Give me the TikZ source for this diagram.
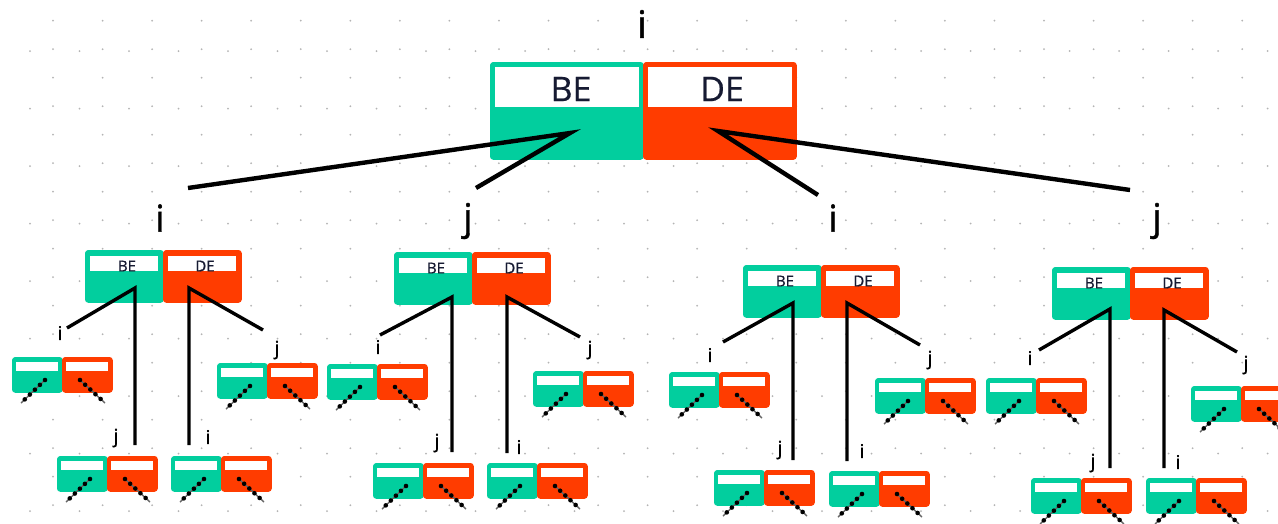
\documentclass[tikz,border=0pt]{standalone}
\usepackage{fontspec}
\setmainfont{Open Sans}
\newfontfamily\labfont[BoldFont={Open Sans}, BoldFeatures={FakeBold=1.3}]{Open Sans}
\newfontfamily\capfont[BoldFont={Open Sans}, BoldFeatures={FakeBold=0.6}]{Open Sans}
\definecolor{mint}{RGB}{2,206,158}
\definecolor{flame}{RGB}{255,60,0}
\definecolor{ink}{RGB}{22,26,50}
\definecolor{griddot}{RGB}{180,180,180}

\tikzset{
  half/.style={anchor=north west, inner sep=0pt, rounded corners=3pt, line width=0.8pt},
  gbig/.style={half, fill=mint, draw=mint, minimum width=153pt, minimum height=97pt},
  rbig/.style={half, fill=flame, draw=flame, minimum width=153pt, minimum height=97pt},
  gmid/.style={half, fill=mint, draw=mint, minimum width=78pt, minimum height=52pt},
  rmid/.style={half, fill=flame, draw=flame, minimum width=78pt, minimum height=52pt},
  gleaf/.style={half, fill=mint, draw=mint, minimum width=50pt, minimum height=35pt},
  rleaf/.style={half, fill=flame, draw=flame, minimum width=50pt, minimum height=35pt},
  band/.style={anchor=north west, inner sep=0pt, fill=white, draw=none},
  bandbig/.style={band, minimum width=144pt, minimum height=40pt},
  bandmid/.style={band, minimum width=68pt, minimum height=15pt},
  bandleaf/.style={band, minimum width=42pt, minimum height=9pt},
  bigtxt/.style={inner sep=0pt, text=ink, font=\capfont\bfseries\fontsize{34}{36}\selectfont},
  midtxt/.style={inner sep=0pt, text=ink, font=\capfont\bfseries\fontsize{15}{17}\selectfont},
  toplab/.style={inner sep=0pt, font=\labfont\bfseries\fontsize{38}{42}\selectfont},
  lab2/.style={inner sep=0pt, font=\labfont\bfseries\fontsize{37}{40}\selectfont},
  lab3/.style={inner sep=0pt, font=\labfont\bfseries\fontsize{19}{20}\selectfont},
  link1/.style={line width=4.4pt, black},
  link2/.style={line width=3.4pt, black},
  dotlink/.style={black, line width=4.6pt, line cap=round, dash pattern=on 0pt off 7pt,
    preaction={draw, solid, line width=1.4pt, black!60}},
}

% two-tone record of the middle level, with its BE / DE captions
\newcommand\midpair[3]{%
  \node[gmid] (#1-be) at (#2,#3) {};
  \node[rmid] (#1-de) at ({#2+78},#3) {};
  \node[bandmid] (#1-bew) at ({#2+5},{#3+6}) {};
  \node[bandmid] (#1-dew) at ({#2+83},{#3+6}) {};
  \node[midtxt] (#1-bet) at ({#2+42},{#3+16}) {BE};
  \node[midtxt] (#1-det) at ({#2+120},{#3+16}) {DE};
}

% small record of the bottom level with its two dotted continuations
\newcommand\leafpair[3]{%
  \node[gleaf] (#1-be) at (#2,#3) {};
  \node[rleaf] (#1-de) at ({#2+50},#3) {};
  \node[bandleaf] (#1-bew) at ({#2+4},{#3+5}) {};
  \node[bandleaf] (#1-dew) at ({#2+54},{#3+5}) {};
  \coordinate (#1-gs) at ({#2+33},{#3+23});
  \coordinate (#1-ge) at ({#2+9},{#3+46});
  \coordinate (#1-rs) at ({#2+68},{#3+23});
  \coordinate (#1-re) at ({#2+93},{#3+46});
  \draw[dotlink] (#1-gs) -- (#1-ge);
  \draw[dotlink] (#1-rs) -- (#1-re);
}

\begin{document}
\begin{tikzpicture}[x=1pt, y=-1pt]
\useasboundingbox (0,0) rectangle (1278,523);
\clip (0,0) rectangle (1278,523);
\fill[white] (0,0) rectangle (1278,523);

% dotted paper
\foreach \i in {0,...,24}
  \foreach \j in {0,...,17}
    \fill[griddot] ({53+49.55*\i},{20.7+28.5*\j}) circle (1pt);
\foreach \i in {0,...,25}
  \foreach \j in {0,...,8}
    \fill[griddot] ({30+49.5*\i},{51+57.5*\j}) circle (1pt);

% root record
\node[toplab] (root-lab) at (642,24) {i};
\node[gbig] (root-be) at (490,62) {};
\node[rbig] (root-de) at (643,62) {};
\node[bandbig] (root-bew) at (495,67) {};
\node[bandbig] (root-dew) at (648,67) {};
\node[bigtxt] (root-bet) at (571,89) {BE};
\node[bigtxt] (root-det) at (722,89) {DE};

\coordinate (root-vb) at (570,133);
\coordinate (root-vd) at (718,131);
\coordinate (root-e1) at (188,188);
\coordinate (root-e2) at (476,188);
\coordinate (root-e3) at (818,195);
\coordinate (root-e4) at (1130,190);
\draw[link1] (root-e1) -- (root-vb) -- (root-e2);
\draw[link1] (root-e3) -- (root-vd) -- (root-e4);

% second level labels
\node[lab2] (la) at (160,218) {i};
\node[lab2] (lb) at (468,221) {j};
\node[lab2] (lc) at (833,218) {i};
\node[lab2] (ld) at (1157,221) {j};

% second level records
\midpair{a}{85}{250}
\midpair{b}{394}{252}
\midpair{c}{743}{265}
\midpair{d}{1052}{267}

% branches of the second level records
\coordinate (a-vb) at (135,288);  \coordinate (a-vd) at (189,288);
\coordinate (a-e1) at (67,328);   \coordinate (a-e2) at (135,445);
\coordinate (a-e3) at (189,445);  \coordinate (a-e4) at (263,330);
\coordinate (b-vb) at (452,297);  \coordinate (b-vd) at (507,297);
\coordinate (b-e1) at (380,335);  \coordinate (b-e2) at (452,452);
\coordinate (b-e3) at (507,453);  \coordinate (b-e4) at (580,337);
\coordinate (c-vb) at (793,303);  \coordinate (c-vd) at (847,303);
\coordinate (c-e1) at (723,342);  \coordinate (c-e2) at (793,460);
\coordinate (c-e3) at (847,461);  \coordinate (c-e4) at (920,345);
\coordinate (d-vb) at (1110,309); \coordinate (d-vd) at (1164,310);
\coordinate (d-e1) at (1039,350); \coordinate (d-e2) at (1110,468);
\coordinate (d-e3) at (1164,468); \coordinate (d-e4) at (1237,352);
\foreach \s in {a,b,c,d} {
  \draw[link2] (\s-e1) -- (\s-vb) -- (\s-e2);
  \draw[link2] (\s-e3) -- (\s-vd) -- (\s-e4);
}

% third level labels
\node[lab3] (a-l1) at (60,333) {i};   \node[lab3] (a-l2) at (116,438) {j};
\node[lab3] (a-l3) at (208,437) {i};  \node[lab3] (a-l4) at (277,350) {j};
\node[lab3] (b-l1) at (378,347) {i};  \node[lab3] (b-l2) at (437,443) {j};
\node[lab3] (b-l3) at (519,447) {i};  \node[lab3] (b-l4) at (590,350) {j};
\node[lab3] (c-l1) at (710,355) {i};  \node[lab3] (c-l2) at (780,450) {j};
\node[lab3] (c-l3) at (862,451) {i};  \node[lab3] (c-l4) at (930,360) {j};
\node[lab3] (d-l1) at (1030,358) {i}; \node[lab3] (d-l2) at (1093,463) {j};
\node[lab3] (d-l3) at (1178,462) {i}; \node[lab3] (d-l4) at (1246,365) {j};

% bottom level records
\leafpair{a1}{12}{357}   \leafpair{a2}{57}{456}
\leafpair{a3}{171}{456}  \leafpair{a4}{217}{363}
\leafpair{b1}{327}{364}  \leafpair{b2}{373}{463}
\leafpair{b3}{487}{463}  \leafpair{b4}{533}{371}
\leafpair{c1}{669}{372}  \leafpair{c2}{714}{470}
\leafpair{c3}{829}{471}  \leafpair{c4}{875}{378}
\leafpair{d1}{986}{378}  \leafpair{d2}{1031}{478}
\leafpair{d3}{1146}{478} \leafpair{d4}{1191}{386}
\end{tikzpicture}
\end{document}
